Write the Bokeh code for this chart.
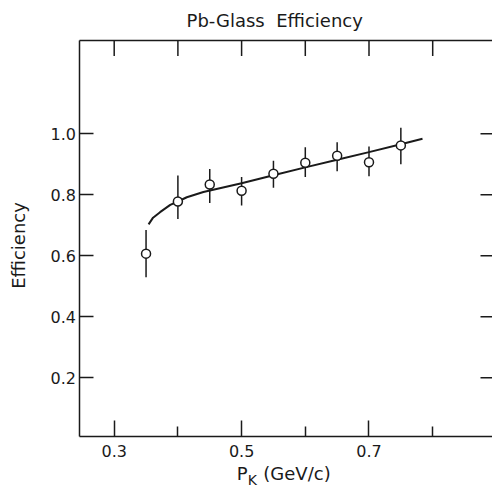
import math
from bokeh.plotting import figure
from bokeh.models import Range1d, LinearAxis, FixedTicker, Label, PrintfTickFormatter
from bokeh.embed import file_html
from bokeh.resources import INLINE

# ---- data ----
momentum = [0.35, 0.40, 0.45, 0.50, 0.55, 0.60, 0.65, 0.70, 0.75]
efficiency = [0.607, 0.778, 0.834, 0.813, 0.869, 0.905, 0.928, 0.907, 0.962]
err_low = [0.530, 0.721, 0.773, 0.765, 0.823, 0.858, 0.877, 0.861, 0.900]
err_high = [0.685, 0.863, 0.885, 0.858, 0.912, 0.956, 0.972, 0.958, 1.020]

fit_x = [0.354, 0.361, 0.372, 0.388, 0.400, 0.414, 0.440, 0.500, 0.550, 0.600, 0.650, 0.700, 0.750, 0.784]
fit_y = [0.703, 0.725, 0.743, 0.767, 0.778, 0.792, 0.809, 0.838, 0.864, 0.890, 0.915, 0.940, 0.966, 0.984]

x_major = [0.3, 0.5, 0.7]
x_minor = [0.4, 0.6, 0.8]
x_all = [0.3, 0.4, 0.5, 0.6, 0.7, 0.8]
y_ticks = [0.2, 0.4, 0.6, 0.8, 1.0]

# ---- layout (frame box of the original figure, in data units) ----
X0, X1 = 0.12151, 0.89388      # visible x extent
Y0, Y1 = -0.16623, 1.43705     # visible y extent
BOX_L, BOX_R = 0.2463, X1
BOX_B, BOX_T = 0.0075, 1.3043

FONT = "DejaVu Sans"
INK = "#1a1a1a"

p = figure(width=492, height=489, output_backend="svg", toolbar_location=None,
           x_range=Range1d(X0, X1), y_range=Range1d(Y0, Y1),
           x_axis_location=None, y_axis_location=None, min_border=0,
           background_fill_color="white", border_fill_color="white")
p.outline_line_color = None
for g in p.grid:
    g.visible = False

# bottom axis (box edge)
xa = LinearAxis(ticker=FixedTicker(ticks=x_major, minor_ticks=x_minor),
                fixed_location=BOX_B, bounds=(BOX_L, BOX_R),
                major_tick_in=16, major_tick_out=0, minor_tick_in=10, minor_tick_out=0,
                axis_line_width=1.5, axis_line_color=INK,
                major_tick_line_color=INK, minor_tick_line_color=INK,
                major_tick_line_width=1.5, minor_tick_line_width=1.5,
                major_label_text_font=FONT, major_label_text_font_size="16px",
                major_label_text_color=INK, major_label_standoff=8)
p.add_layout(xa, "below")

# left axis (box edge)
ya = LinearAxis(ticker=FixedTicker(ticks=y_ticks, minor_ticks=[]),
                formatter=PrintfTickFormatter(format="%.1f"),
                fixed_location=BOX_L, bounds=(BOX_B, BOX_T),
                major_tick_in=14, major_tick_out=0, minor_tick_line_color=None,
                axis_line_width=1.5, axis_line_color=INK,
                major_tick_line_color=INK, major_tick_line_width=1.5,
                major_label_text_font=FONT, major_label_text_font_size="16px",
                major_label_text_color=INK, major_label_standoff=4)
p.add_layout(ya, "left")

# top edge of the box (line only)
top = LinearAxis(ticker=FixedTicker(ticks=[], minor_ticks=[]),
                 fixed_location=BOX_T, bounds=(BOX_L, BOX_R),
                 axis_line_width=1.5, axis_line_color=INK,
                 major_tick_line_color=None, minor_tick_line_color=None)
p.add_layout(top, "above")

# inward ticks on the top and right edges
p.ray(x=x_all, y=[BOX_T] * len(x_all), length=15, length_units="screen",
      angle=-math.pi / 2, line_color=INK, line_width=1.5)
p.ray(x=[BOX_R] * len(y_ticks), y=y_ticks, length=12, length_units="screen",
      angle=math.pi, line_color=INK, line_width=1.5)

# fit curve
p.line(fit_x, fit_y, line_color=INK, line_width=2)

# error bars and points
p.segment(x0=momentum, y0=err_low, x1=momentum, y1=err_high, line_color=INK, line_width=1.5)
p.scatter(momentum, efficiency, size=9, marker="circle", fill_color="white",
          line_color=INK, line_width=1.5)

# title
p.add_layout(Label(x=0.5520, y=1.3715, text="Pb-Glass\u00a0 Efficiency", text_align="center",
                   text_baseline="alphabetic",
                   text_font=FONT, text_font_size="18px", text_color=INK))

# y axis title
p.add_layout(Label(x=0.1503, y=0.6338, text="Efficiency", text_align="center",
                   text_baseline="alphabetic", angle=math.pi / 2,
                   text_font=FONT, text_font_size="18px", text_color=INK))

# x axis title: P_K (GeV/c)
p.add_layout(Label(x=0.4923, y=-0.1138, text="P", text_align="left", text_baseline="alphabetic",
                   text_font=FONT, text_font_size="18px", text_color=INK))
p.add_layout(Label(x=0.5097, y=-0.1367, text="K", text_align="left", text_baseline="alphabetic",
                   text_font=FONT, text_font_size="14px", text_color=INK))
p.add_layout(Label(x=0.5341, y=-0.1138, text="(GeV/c)", text_align="left", text_baseline="alphabetic",
                   text_font=FONT, text_font_size="18px", text_color=INK))

open("out.html", "w").write(file_html(p, INLINE))
